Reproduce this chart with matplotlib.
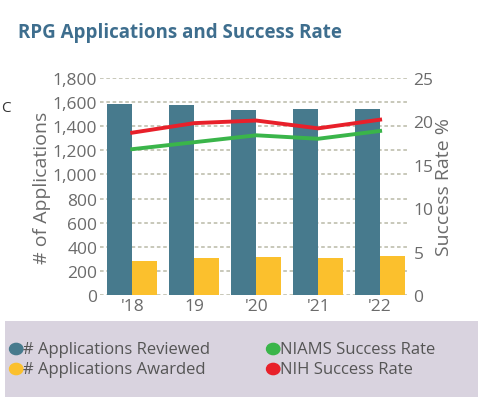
import matplotlib

matplotlib.use("Agg")
import matplotlib.pyplot as plt
from matplotlib.patches import Rectangle
import numpy as np

years = ["'18", "19", "'20", "'21", "'22"]
reviewed = [1584, 1573, 1535, 1545, 1545]
awarded = [282, 304, 315, 304, 323]
niams_rate = [16.8, 17.6, 18.4, 18.0, 18.9]
nih_rate = [18.7, 19.8, 20.1, 19.2, 20.2]

plt.rcParams["font.family"] = ["Open Sans", "DejaVu Sans"]
grey = "#6b6b6b"

fig = plt.figure(figsize=(4.78, 4.02), dpi=100)
ax = fig.add_axes([100 / 478, 1 - 296 / 402, 308 / 478, 217 / 402])
x = np.arange(len(years))
w = 0.4
ax.bar(x - w / 2, reviewed, w, color="#477a8d", zorder=2)
ax.bar(x + w / 2, awarded, w, color="#fbc02d", zorder=2)
ax.set_ylim(0, 1800)
ax.set_xlim(-0.52, 4.45)
ax.set_yticks(range(0, 1801, 200))
ax.set_yticklabels([f"{v:,}" for v in range(0, 1801, 200)])
ax.set_xticks(x)
ax.set_xticklabels(years)
ax.grid(axis="y", linestyle=(0, (2, 1.5)), color="#c4c4b4", linewidth=1.3, zorder=0)
for s in ax.spines.values():
    s.set_visible(False)
ax.tick_params(length=0, colors=grey, labelsize=12.5, pad=2)
ax.set_ylabel("# of Applications", color=grey, fontsize=14, labelpad=1)

ax2 = ax.twinx()
ax2.plot(x, nih_rate, color="#e8202a", linewidth=2.8, zorder=3)
ax2.plot(x, niams_rate, color="#3ab54a", linewidth=2.8, zorder=3)
ax2.set_ylim(0, 25)
ax2.set_yticks(range(0, 26, 5))
for s in ax2.spines.values():
    s.set_visible(False)
ax2.tick_params(length=0, colors=grey, labelsize=12.5, pad=4)
ax2.set_ylabel("Success Rate %", color=grey, fontsize=14, labelpad=1)

fig.text(18 / 478, 1 - 33 / 402, "RPG Applications and Success Rate",
         color="#3e6e8e", fontsize=13.5, fontweight="bold", va="center")
fig.text(1 / 478, 1 - 108 / 402, "C", color="#333333", fontsize=11, va="center")

fig.patches.append(Rectangle((5 / 478, 4 / 402), 1, (402 - 322 - 4) / 402,
                             transform=fig.transFigure,
                             facecolor="#d9d3df", edgecolor="none", zorder=0))
items = [
    (10, 350, "#477a8d", "# Applications Reviewed"),
    (10, 370, "#fbc02d", "# Applications Awarded"),
    (267, 350, "#3ab54a", "NIAMS Success Rate"),
    (267, 370, "#e8202a", "NIH Success Rate"),
]
for px, py, c, label in items:
    fig.patches.append(plt.Circle((px / 478 + 0.013, 1 - py / 402), 0.014,
                                  transform=fig.transFigure, color=c))
    fig.text(px / 478 + 0.028, 1 - py / 402, label, color="#555555",
             fontsize=12, va="center")

fig.savefig("out.png")
